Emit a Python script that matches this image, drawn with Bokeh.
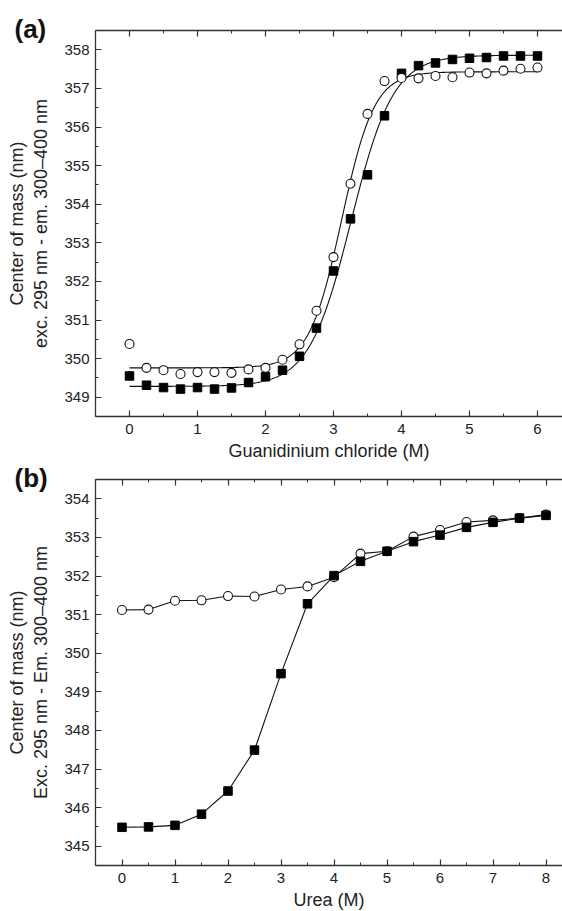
import numpy as np
from bokeh.plotting import figure
from bokeh.models import (Range1d, LinearAxis, FixedTicker, ColumnDataSource,
                          CustomLabelingPolicy, Title)
from bokeh.layouts import column
from bokeh.embed import file_html
from bokeh.resources import INLINE

FONT = "Liberation Sans"

# ---------------- Panel (a): Guanidinium chloride ----------------
gdm_x = [0, 0.25, 0.5, 0.75, 1.0, 1.25, 1.5, 1.75, 2.0, 2.25, 2.5, 2.75, 3.0,
         3.25, 3.5, 3.75, 4.0, 4.25, 4.5, 4.75, 5.0, 5.25, 5.5, 5.75, 6.0]
gdm_squares = [349.55, 349.31, 349.25, 349.21, 349.25, 349.21, 349.24, 349.38,
               349.53, 349.70, 350.06, 350.79, 352.27, 353.62, 354.76, 356.29,
               357.39, 357.59, 357.66, 357.75, 357.78, 357.80, 357.84, 357.84,
               357.84]
gdm_circles = [350.38, 349.76, 349.70, 349.60, 349.65, 349.65, 349.63, 349.72,
               349.76, 349.97, 350.37, 351.24, 352.63, 354.53, 356.34, 357.19,
               357.27, 357.26, 357.32, 357.29, 357.41, 357.39, 357.46, 357.51,
               357.54]
# two-state fit parameters: (baseline, plateau, midpoint, width)
fit_squares = (349.28, 357.86, 3.26, 0.31)
fit_circles = (349.76, 357.43, 3.12, 0.24)

# ---------------- Panel (b): Urea ----------------
urea_x = [0, 0.5, 1.0, 1.5, 2.0, 2.5, 3.0, 3.5, 4.0, 4.5, 5.0, 5.5, 6.0, 6.5,
          7.0, 7.5, 8.0]
urea_squares = [345.49, 345.50, 345.54, 345.83, 346.43, 347.49, 349.47, 351.28,
                352.01, 352.38, 352.64, 352.89, 353.06, 353.26, 353.39, 353.50,
                353.57]
urea_circles = [351.12, 351.13, 351.36, 351.37, 351.48, 351.47, 351.65, 351.73,
                351.97, 352.58, 352.64, 353.02, 353.19, 353.40, 353.44, 353.50,
                353.59]

gdm_xticks = [0, 1, 2, 3, 4, 5, 6]
gdm_yticks = [349, 350, 351, 352, 353, 354, 355, 356, 357, 358]
urea_xticks = [0, 1, 2, 3, 4, 5, 6, 7, 8]
urea_yticks = [345, 346, 347, 348, 349, 350, 351, 352, 353, 354]


def two_state(x, p):
    a, b, m, w = p
    return a + (b - a) / (1.0 + np.exp(-(x - m) / w))


AX_COLOR = "#333333"
NO_LABELS = CustomLabelingPolicy(code="return new Set()")


def style_axis(ax, ticks, minor, labels=True):
    ax.ticker = FixedTicker(ticks=ticks, minor_ticks=minor)
    ax.axis_line_color = AX_COLOR
    ax.axis_line_width = 1.3
    ax.major_tick_line_color = AX_COLOR
    ax.minor_tick_line_color = AX_COLOR
    ax.major_tick_line_width = 1.2
    ax.minor_tick_line_width = 1.0
    ax.major_tick_in = 6
    ax.major_tick_out = 0
    ax.minor_tick_in = 3
    ax.minor_tick_out = 0
    ax.major_label_text_font = FONT
    ax.major_label_text_font_size = "15px"
    ax.major_label_text_color = "#222222"
    ax.axis_label_text_font = FONT
    ax.axis_label_text_font_style = "normal"
    ax.axis_label_text_font_size = "18px"
    ax.axis_label_text_color = "#222222"
    if not labels:
        ax.major_label_policy = NO_LABELS
        ax.major_label_text_font_size = "0px"
        ax.major_label_standoff = 0


def make_panel(xr, yr, xticks, yticks, xminor, yminor, xlabel, ylabel,
               tag, tag_standoff, top_border, bottom_border):
    p = figure(frame_width=467, frame_height=386,
               x_range=Range1d(*xr), y_range=Range1d(*yr),
               output_backend="svg", toolbar_location=None,
               min_border_left=95, min_border_right=0,
               min_border_top=top_border, min_border_bottom=bottom_border,
               x_axis_location=None, y_axis_location=None)
    p.outline_line_color = None
    p.grid.visible = False
    p.background_fill_color = "white"
    p.border_fill_color = "white"

    xb = LinearAxis(axis_label=xlabel)
    style_axis(xb, xticks, xminor)
    xb.major_label_standoff = 7
    xb.axis_label_standoff = 4
    p.add_layout(xb, "below")

    xt = LinearAxis()
    style_axis(xt, xticks, xminor, labels=False)
    p.add_layout(xt, "above")

    yl = LinearAxis(axis_label=ylabel)
    style_axis(yl, yticks, yminor)
    yl.major_label_standoff = 6
    yl.axis_label_standoff = 10
    p.add_layout(yl, "left")

    # panel tag, pushed left over the axis area
    p.add_layout(Title(text=tag, align="left", offset=-81, standoff=tag_standoff,
                       vertical_align="bottom", text_font=FONT,
                       text_font_size="26px", text_font_style="bold",
                       text_color="#111111"), "above")
    return p


# Panel (a)
pa = make_panel((-0.5, -0.5 + 467 / 68.0), (348.5, 358.5), gdm_xticks, gdm_yticks,
                [x + 0.5 for x in range(-1, 7)],
                [y + 0.5 for y in range(348, 359)],
                "Guanidinium chloride (M)",
                "Center of mass (nm)\nexc. 295 nm - em. 300\u2013400 nm",
                "(a)", -26, 30, 46)

xf = np.linspace(0, 6, 400)
pa.line(xf, two_state(xf, fit_squares), line_color="#111111", line_width=1.1)
pa.line(xf, two_state(xf, fit_circles), line_color="#111111", line_width=1.1)
src_a = ColumnDataSource(dict(x=gdm_x, sq=gdm_squares, ci=gdm_circles))
pa.scatter("x", "sq", source=src_a, marker="square", size=8.5,
           fill_color="black", line_color="black")
pa.scatter("x", "ci", source=src_a, marker="circle", size=9,
           fill_color="white", line_color="#111111", line_width=1.1)

# Panel (b)
pb = make_panel((-0.5, -0.5 + 467 / 53.0), (344.5, 354.5), urea_xticks, urea_yticks,
                [x + 0.5 for x in range(-1, 9)],
                [y + 0.5 for y in range(344, 355)],
                "Urea (M)",
                "Center of mass (nm)\nExc. 295 nm - Em. 300\u2013400 nm",
                "(b)", -26, 16, 47)

src_b = ColumnDataSource(dict(x=urea_x, sq=urea_squares, ci=urea_circles))
pb.line("x", "ci", source=src_b, line_color="#111111", line_width=1.1)
pb.line("x", "sq", source=src_b, line_color="#111111", line_width=1.1)
pb.scatter("x", "ci", source=src_b, marker="circle", size=9,
           fill_color="white", line_color="#111111", line_width=1.1)
pb.scatter("x", "sq", source=src_b, marker="square", size=8.5,
           fill_color="black", line_color="black")

layout = column(pa, pb, spacing=0)
open("out.html", "w").write(file_html(layout, INLINE))
